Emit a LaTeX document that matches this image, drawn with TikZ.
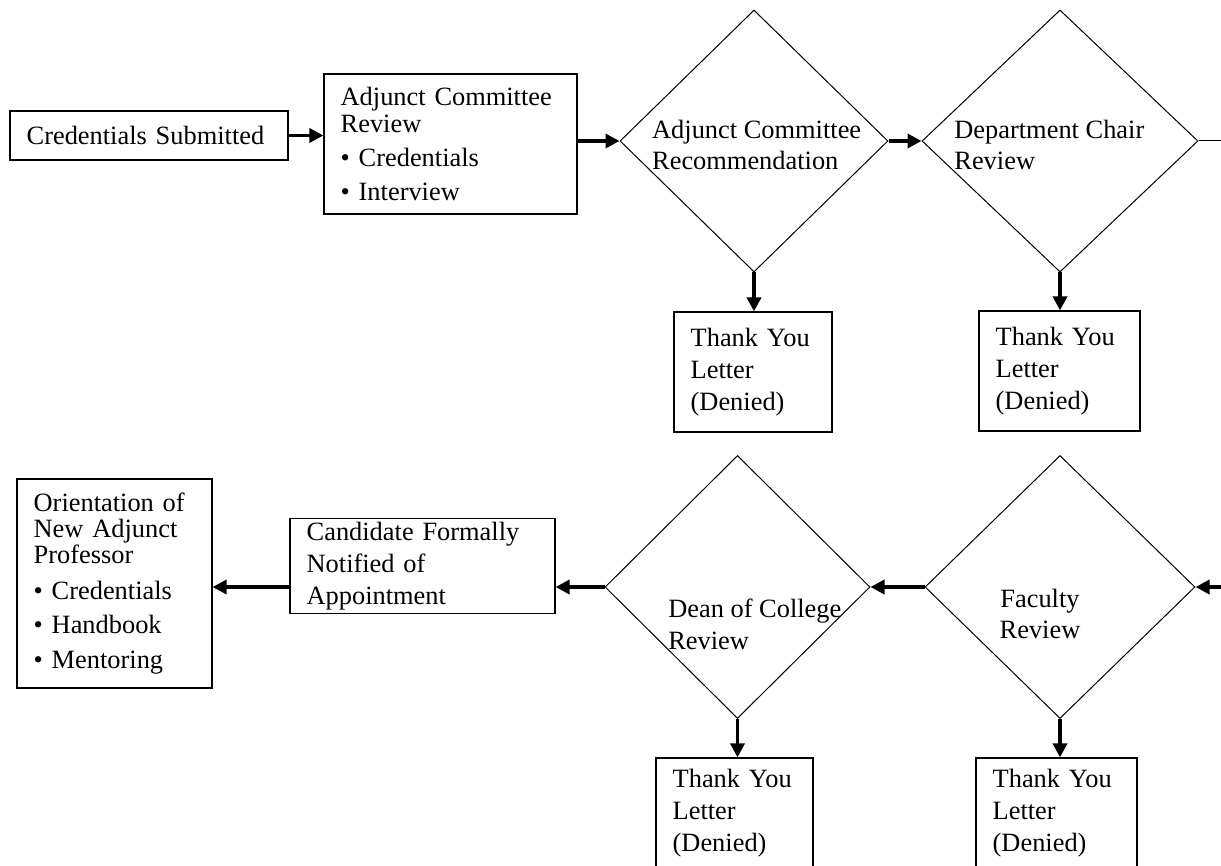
\documentclass[tikz,border=0pt]{standalone}
\usepackage{fontspec}
\setmainfont{Liberation Serif}
\usepackage{tikz}
\usetikzlibrary{shapes.geometric, arrows.meta, positioning}
\definecolor{myink}{RGB}{0,0,0}
\tikzset{
  stepbox/.style={rectangle, draw=myink, line width=0.9pt, align=left,
    inner xsep=12.5pt, inner ysep=0pt, font=\fontsize{19.8pt}{24pt}\selectfont},
  decision/.style={diamond, draw=myink, line width=0.75pt, inner sep=0pt},
  dtext/.style={align=left, inner sep=0pt, font=\fontsize{19.8pt}{23pt}\selectfont},
  arrow/.style={-{Triangle[length=10.5pt, width=10.5pt]}, line width=2.6pt, color=myink},
  line/.style={line width=0.75pt, color=myink}
}
\begin{document}
\begin{tikzpicture}[x=0.75pt, y=-0.75pt]
  \useasboundingbox (0,0) rectangle (1221,866);

  % Nodes, top row
  \node[stepbox, text width=183.5pt, minimum height=36.75pt] (credsub) at (149,135.5) {Credentials Submitted};
  \node[stepbox, text width=164.75pt, minimum height=105pt] (acreview) at (450.5,144)
    {Adjunct Committee\\[-4pt]Review\\[1.5pt]\textbullet{} Credentials\\[1.5pt]\textbullet{} Interview};
  \node[decision, minimum width=201pt, minimum height=196.5pt,
    label={[dtext, xshift=2pt, yshift=-3pt]center:{Adjunct Committee\\Recommendation}}] (acrec) at (754,141) {};
  \node[decision, minimum width=207pt, minimum height=196.5pt,
    label={[dtext, xshift=-8pt, yshift=-3pt]center:{Department Chair\\Review}}] (chair) at (1060,141) {};
  \node[stepbox, text width=93.5pt, minimum height=90pt] (tyacrec) at (753,372) {Thank You\\Letter\\(Denied)};
  \node[stepbox, text width=95.75pt, minimum height=90pt] (tychair) at (1059.5,371) {Thank You\\Letter\\(Denied)};
  \coordinate (out1) at (1221,141);

  % Nodes, bottom row
  \node[stepbox, text width=121.25pt, minimum height=156.75pt] (orient) at (114.5,583.5)
    {Orientation of\\[-4.5pt]New Adjunct\\[-4.5pt]Professor\\[3pt]\textbullet{} Credentials\\[2pt]\textbullet{} Handbook\\[2pt]\textbullet{} Mentoring};
  \node[stepbox, text width=173.75pt, minimum height=71.25pt] (cand) at (422.5,566)
    {Candidate Formally\\Notified of\\Appointment};
  \node[decision, minimum width=198.75pt, minimum height=197.25pt,
    label={[dtext, xshift=13pt, yshift=-28pt]center:{Dean of College\\[1pt]Review}}] (dean) at (737.5,587) {};
  \node[decision, minimum width=202.5pt, minimum height=197.25pt,
    label={[dtext, align=center, xshift=-15pt, yshift=-20pt]center:{Faculty\\Review}}] (faculty) at (1060,587) {};
  \node[stepbox, text width=92.75pt, minimum height=82.5pt] (tydean) at (734.5,813) {Thank You\\Letter\\(Denied)};
  \node[stepbox, text width=95.75pt, minimum height=82.5pt] (tyfaculty) at (1056.5,813) {Thank You\\Letter\\(Denied)};
  \coordinate (in2) at (1221,587);

  % Arrows, top row
  \draw[arrow] (credsub.east) -- (credsub.east -| acreview.west);
  \draw[arrow] (acreview.east |- acrec.west) -- (acrec.west);
  \draw[arrow] (acrec.east) -- (chair.west);
  \draw[line] (chair.east) -- (out1);
  \draw[arrow] (acrec.south) -- (acrec.south |- tyacrec.north);
  \draw[arrow] (chair.south) -- (chair.south |- tychair.north);

  % Arrows, bottom row
  \draw[arrow] (in2) -- (faculty.east);
  \draw[arrow] (faculty.west) -- (dean.east);
  \draw[arrow] (dean.west) -- (dean.west -| cand.east);
  \draw[arrow] (cand.west |- dean.west) -- (dean.west -| orient.east);
  \draw[arrow] (dean.south) -- (dean.south |- tydean.north);
  \draw[arrow] (faculty.south) -- (faculty.south |- tyfaculty.north);
\end{tikzpicture}
\end{document}
